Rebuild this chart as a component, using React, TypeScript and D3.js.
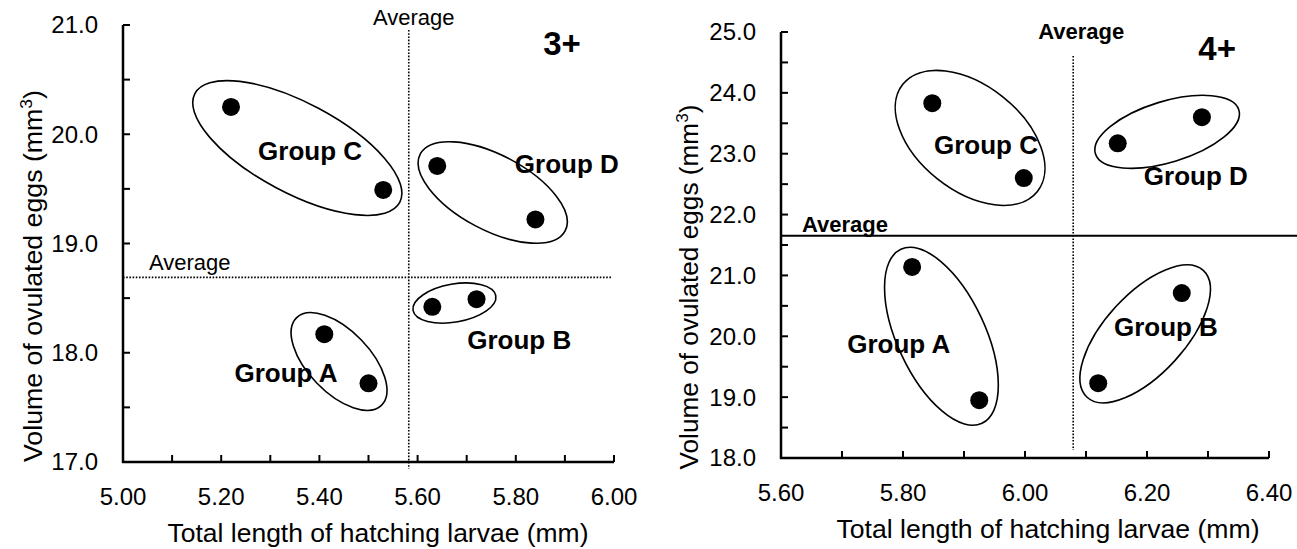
import React from "react";
import * as d3 from "d3";

// ---------- data ----------
const groupNames = ["Group A", "Group A", "Group B", "Group B", "Group C", "Group C", "Group D", "Group D"];
// Age 3+
const length3 = [5.41, 5.5, 5.63, 5.72, 5.22, 5.53, 5.64, 5.84];
const volume3 = [18.17, 17.72, 18.42, 18.49, 20.25, 19.49, 19.71, 19.22];
const avgLength3 = 5.582;
const avgVolume3 = 18.69;
// Age 4+
const length4 = [5.815, 5.925, 6.12, 6.257, 5.848, 5.998, 6.152, 6.29];
const volume4 = [21.14, 18.95, 19.23, 20.71, 23.83, 22.6, 23.17, 23.6];
const avgLength4 = 6.079;
const avgVolume4 = 21.65;

const xTicks3 = [5.0, 5.2, 5.4, 5.6, 5.8, 6.0];
const yTicks3 = [17.0, 18.0, 19.0, 20.0, 21.0];
const xTicks4 = [5.6, 5.8, 6.0, 6.2, 6.4];
const yTicks4 = [18.0, 19.0, 20.0, 21.0, 22.0, 23.0, 24.0, 25.0];

// group annotations: label position (data units), ellipse centre (data units)
const groupLabels = ["Group A", "Group B", "Group C", "Group D"];
const labelX3 = [5.332, 5.807, 5.381, 5.904];
const labelY3 = [17.732, 18.034, 19.764, 19.645];
const ellX3 = [5.44, 5.675, 5.355, 5.753];
const ellY3 = [17.92, 18.455, 19.874, 19.467];
const labelX4 = [5.793, 6.231, 5.936, 6.28];
const labelY4 = [19.72, 20.0, 22.99, 22.48];
const ellX4 = [5.863, 6.197, 5.91, 6.233];
const ellY4 = [20.0, 20.04, 23.26, 23.36];

// ellipse shapes (pixels / degrees)
const ellShape3 = [
  { a: 61, b: 31, rot: 46 },
  { a: 42, b: 19, rot: -10 },
  { a: 116, b: 45, rot: 28 },
  { a: 82, b: 37.5, rot: 28 },
];
const ellShape4 = [
  { a: 96, b: 44, rot: 65 },
  { a: 86, b: 40, rot: -47.5 },
  { a: 86, b: 52.5, rot: 38.5 },
  { a: 75, b: 30.5, rot: -17 },
];

const FONT = "'Liberation Sans', Arial, sans-serif";

type PanelProps = {
  xDomain: [number, number];
  yDomain: [number, number];
  xRange: [number, number];
  yRange: [number, number];
  xTicks: number[];
  yTicks: number[];
  xs: number[];
  ys: number[];
  avgX: number;
  avgY: number;
  labelX: number[];
  labelY: number[];
  ellX: number[];
  ellY: number[];
  ellShape: { a: number; b: number; rot: number }[];
  age: string;
  ageX: number;
  ageY: number;
  variant: "3" | "4";
  xTitleCx: number;
  xTitleW: number;
  yTitleX: number;
  yTitleCy: number;
  yTitleLen: number;
};

function Panel(p: PanelProps) {
  const x = d3.scaleLinear().domain(p.xDomain).range(p.xRange);
  const y = d3.scaleLinear().domain(p.yDomain).range(p.yRange);
  const minorX = d3.range(p.xDomain[0], p.xDomain[1] + 1e-9, 0.1);
  const minorY = d3.range(p.yDomain[0], p.yDomain[1] + 1e-9, 0.5);
  const x0 = p.xRange[0];
  const y0 = p.yRange[0];
  const is3 = p.variant === "3";
  return (
    <g fontFamily={FONT} fill="#000">
      {/* axes */}
      <line x1={x0} x2={x0} y1={y0 + 1} y2={p.yRange[1]} stroke="#000" strokeWidth={2.5} />
      <line x1={x0 - 1} x2={p.xRange[1]} y1={y0} y2={y0} stroke="#000" strokeWidth={2.5} />
      {minorX.map((v, i) => (
        <line key={"mx" + i} x1={x(v)} x2={x(v)} y1={y0} y2={y0 - 7} stroke="#000" strokeWidth={2} />
      ))}
      {minorY.map((v, i) => (
        <line key={"my" + i} x1={x0} x2={x0 + 7} y1={y(v)} y2={y(v)} stroke="#000" strokeWidth={2} />
      ))}
      {p.xTicks.map((v) => (
        <text key={"xt" + v} x={x(v)} y={y0 + 43} fontSize={24} textAnchor="middle">
          {v.toFixed(2)}
        </text>
      ))}
      {p.yTicks.map((v) => (
        <text key={"yt" + v} x={x0 - 25} y={y(v)} dy="0.35em" fontSize={24} textAnchor="end">
          {v.toFixed(1)}
        </text>
      ))}
      {/* axis titles */}
      <text
        x={p.xTitleCx}
        y={y0 + 80}
        fontSize={26}
        textAnchor="middle"
        textLength={p.xTitleW}
        lengthAdjust="spacingAndGlyphs"
      >
        Total length of hatching larvae (mm)
      </text>
      <text
        transform={`translate(${p.yTitleX},${p.yTitleCy}) rotate(-90)`}
        fontSize={26}
        textAnchor="middle"
        textLength={p.yTitleLen}
        lengthAdjust="spacingAndGlyphs"
      >
        Volume of ovulated eggs (mm<tspan dy="-10" fontSize={17}>3</tspan>
        <tspan dy="10">)</tspan>
      </text>

      {/* average lines */}
      {is3 ? (
        <>
          <line
            x1={x(p.avgX)}
            x2={x(p.avgX)}
            y1={p.yRange[1] + 5}
            y2={y0 + 7}
            stroke="#000"
            strokeWidth={1.6}
            strokeDasharray="1.6,1.6"
          />
          <line
            x1={x0}
            x2={p.xRange[1] - 2}
            y1={y(p.avgY)}
            y2={y(p.avgY)}
            stroke="#000"
            strokeWidth={1.6}
            strokeDasharray="1.6,1.6"
          />
          <text x={x(p.avgX) + 5} y={p.yRange[1]} fontSize={22} textAnchor="middle">
            Average
          </text>
          <text x={x0 + 26} y={y(p.avgY) - 7} fontSize={22}>
            Average
          </text>
        </>
      ) : (
        <>
          <line
            x1={x(p.avgX)}
            x2={x(p.avgX)}
            y1={p.yRange[1] + 24}
            y2={y0 - 8}
            stroke="#000"
            strokeWidth={1.6}
            strokeDasharray="1.6,1.6"
          />
          <line x1={x0} x2={1297} y1={y(p.avgY)} y2={y(p.avgY)} stroke="#000" strokeWidth={2} />
          <text x={x(p.avgX) + 8} y={p.yRange[1] + 7} fontSize={22} fontWeight="bold" textAnchor="middle">
            Average
          </text>
          <text x={x0 + 21} y={y(p.avgY) - 4} fontSize={22} fontWeight="bold">
            Average
          </text>
        </>
      )}

      {/* ellipses */}
      {groupLabels.map((g, i) => (
        <ellipse
          key={"e" + g}
          cx={0}
          cy={0}
          rx={p.ellShape[i].a}
          ry={p.ellShape[i].b}
          transform={`translate(${x(p.ellX[i])},${y(p.ellY[i])}) rotate(${p.ellShape[i].rot})`}
          fill="none"
          stroke="#000"
          strokeWidth={1.6}
        />
      ))}
      {/* points */}
      {p.xs.map((v, i) => (
        <circle key={"p" + i} cx={x(v)} cy={y(p.ys[i])} r={9} fill="#000" data-group={groupNames[i]} />
      ))}
      {/* group labels */}
      {groupLabels.map((g, i) => (
        <text key={"l" + g} x={x(p.labelX[i])} y={y(p.labelY[i])} fontSize={26} fontWeight="bold" textAnchor="middle">
          {g}
        </text>
      ))}
      <text x={x(p.ageX)} y={y(p.ageY)} fontSize={33} fontWeight="bold" textAnchor="middle">
        {p.age}
      </text>
    </g>
  );
}

export default function App() {
  return (
    <svg
      width={1297}
      height={549}
      viewBox="0 0 1297 549"
      style={{ position: "absolute", left: 0, top: 0, background: "#fff" }}
    >
      <rect width={1297} height={549} fill="#fff" />
      <Panel
        xDomain={[5.0, 6.0]}
        yDomain={[17.0, 21.0]}
        xRange={[123, 614]}
        yRange={[462, 25]}
        xTicks={xTicks3}
        yTicks={yTicks3}
        xs={length3}
        ys={volume3}
        avgX={avgLength3}
        avgY={avgVolume3}
        labelX={labelX3}
        labelY={labelY3}
        ellX={ellX3}
        ellY={ellY3}
        ellShape={ellShape3}
        age="3+"
        ageX={5.894}
        ageY={20.725}
        variant="3"
        xTitleCx={378}
        xTitleW={421}
        yTitleX={42}
        yTitleCy={276}
        yTitleLen={372}
      />
      <Panel
        xDomain={[5.6, 6.4]}
        yDomain={[18.0, 25.0]}
        xRange={[781, 1269]}
        yRange={[458, 32]}
        xTicks={xTicks4}
        yTicks={yTicks4}
        xs={length4}
        ys={volume4}
        avgX={avgLength4}
        avgY={avgVolume4}
        labelX={labelX4}
        labelY={labelY4}
        ellX={ellX4}
        ellY={ellY4}
        ellShape={ellShape4}
        age="4+"
        ageX={6.315}
        ageY={24.535}
        variant="4"
        xTitleCx={1048}
        xTitleW={423}
        yTitleX={698}
        yTitleCy={287}
        yTitleLen={365}
      />
    </svg>
  );
}
